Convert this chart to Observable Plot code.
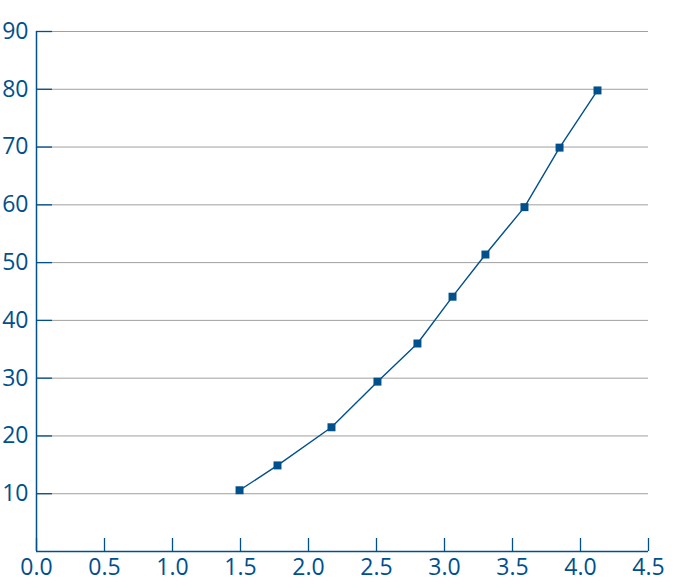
<!DOCTYPE html>
<html>
<head>
<meta charset="utf-8">
<script src="https://cdn.jsdelivr.net/npm/d3@7"></script>
<script src="https://cdn.jsdelivr.net/npm/@observablehq/plot@0.6"></script>
<style>
  html, body { margin: 0; padding: 0; background: #fff; }
</style>
</head>
<body>
<div id="chart"></div>
<script>
const xValues = [1.493, 1.772, 2.169, 2.507, 2.801, 3.059, 3.301, 3.588, 3.846, 4.125];
const yValues = [10.6, 14.9, 21.5, 29.4, 36.0, 44.1, 51.4, 59.6, 69.9, 79.8];
const xTicks = [0, 0.5, 1, 1.5, 2, 2.5, 3, 3.5, 4, 4.5];
const yTicks = [10, 20, 30, 40, 50, 60, 70, 80, 90];

const blue = "#00508c";
const data = xValues.map((x, i) => ({x, y: yValues[i]}));

const chart = Plot.plot({
  width: 691,
  height: 582,
  marginLeft: 36,
  marginRight: 43,
  marginTop: 31,
  marginBottom: 31,
  style: {fontFamily: "'Open Sans', sans-serif", background: "#fff", overflow: "visible"},
  x: {domain: [0, 4.5]},
  y: {domain: [0, 90]},
  marks: [
    Plot.gridY(yTicks, {stroke: "#a0a0a0", strokeOpacity: 1, strokeWidth: 1}),
    Plot.axisY(yTicks, {anchor: "left", tickSize: -16, tickFormat: () => "", stroke: blue, strokeWidth: 1.3, label: null}),
    Plot.axisY(yTicks, {anchor: "left", tickSize: 0, tickPadding: 8, tickFormat: d => String(d), fill: blue, fontSize: 23, label: null}),
    Plot.axisX(xTicks, {anchor: "bottom", tickSize: -13, tickFormat: () => "", stroke: blue, strokeWidth: 1.3, label: null}),
    Plot.axisX(xTicks, {anchor: "bottom", tickSize: 0, tickPadding: 7, tickFormat: d => d.toFixed(1), fill: blue, fontSize: 23, label: null}),
    Plot.ruleX([0], {stroke: blue, strokeWidth: 1.5}),
    Plot.ruleY([0], {stroke: blue, strokeWidth: 1.5}),
    Plot.line(data, {x: "x", y: "y", stroke: blue, strokeWidth: 1.4}),
    Plot.dot(data, {x: "x", y: "y", symbol: "square", r: 4.5, fill: blue, stroke: "none"})
  ]
});
document.getElementById("chart").appendChild(chart);
</script>
</body>
</html>
